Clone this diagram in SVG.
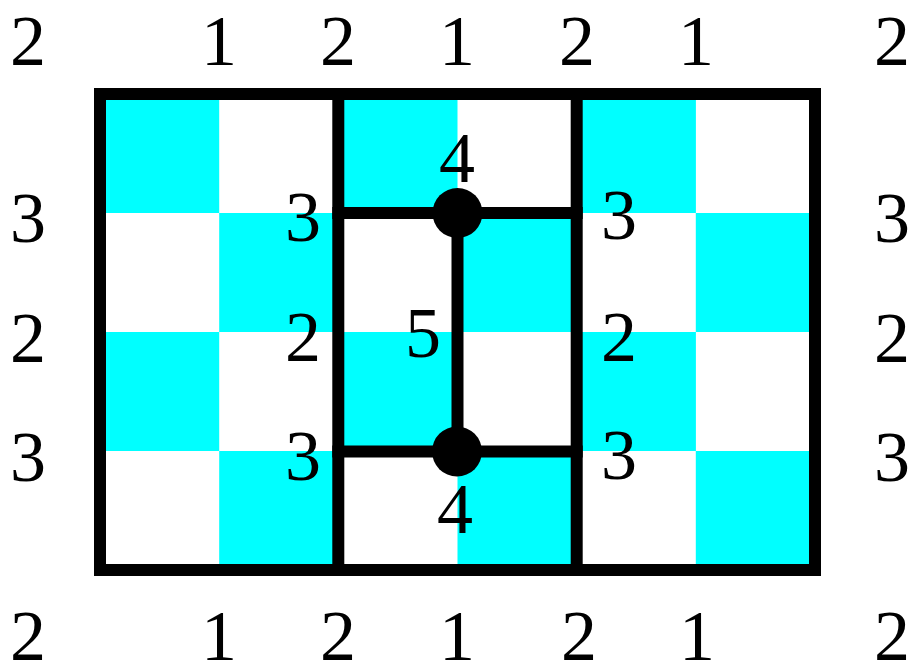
<svg xmlns="http://www.w3.org/2000/svg" width="915" height="665" viewBox="0 0 915 665">
<style>
.c{fill:#00FFFF;stroke:none}
.ln{stroke:#000;stroke-width:12;fill:none;stroke-linecap:square}
.t{font-family:"Liberation Serif","DejaVu Serif",serif;font-size:72px;fill:#000;text-anchor:middle}
.d{fill:#000}
</style>
<rect width="915" height="665" fill="#fff"/>
<g id="cells">
<rect class="c" x="100" y="94" width="119.2" height="119"/>
<rect class="c" x="338.3" y="94" width="119.2" height="119"/>
<rect class="c" x="576.7" y="94" width="119.2" height="119"/>
<rect class="c" x="219.2" y="213" width="119.2" height="119"/>
<rect class="c" x="457.5" y="213" width="119.2" height="119"/>
<rect class="c" x="695.8" y="213" width="119.2" height="119"/>
<rect class="c" x="100" y="332" width="119.2" height="119"/>
<rect class="c" x="338.3" y="332" width="119.2" height="119"/>
<rect class="c" x="576.7" y="332" width="119.2" height="119"/>
<rect class="c" x="219.2" y="451" width="119.2" height="119"/>
<rect class="c" x="457.5" y="451" width="119.2" height="119"/>
<rect class="c" x="695.8" y="451" width="119.2" height="119"/>
</g>
<g id="connectors">
<rect class="ln" x="100" y="94" width="715" height="476"/>
<line class="ln" x1="338.3" y1="94" x2="338.3" y2="570"/>
<line class="ln" x1="576.7" y1="94" x2="576.7" y2="570"/>
<line class="ln" x1="338.3" y1="213" x2="576.7" y2="213"/>
<line class="ln" x1="338.3" y1="451.5" x2="576.7" y2="451.5"/>
<line class="ln" x1="457.5" y1="213" x2="457.5" y2="451.5"/>
</g>
<g id="node-top"><circle class="d" cx="457.5" cy="213" r="25"/></g>
<g id="node-bottom"><circle class="d" cx="457" cy="451.5" r="25"/></g>
<g id="labels">
<text class="t" x="28" y="65">2</text>
<text class="t" x="219" y="65">1</text>
<text class="t" x="338" y="65">2</text>
<text class="t" x="457" y="65">1</text>
<text class="t" x="577" y="65">2</text>
<text class="t" x="696" y="65">1</text>
<text class="t" x="892" y="65">2</text>
<text class="t" x="28" y="660">2</text>
<text class="t" x="219" y="660">1</text>
<text class="t" x="338" y="660">2</text>
<text class="t" x="457" y="660">1</text>
<text class="t" x="579" y="660">2</text>
<text class="t" x="697" y="660">1</text>
<text class="t" x="892" y="660">2</text>
<text class="t" x="28" y="242">3</text>
<text class="t" x="28" y="362">2</text>
<text class="t" x="28" y="481">3</text>
<text class="t" x="892" y="242">3</text>
<text class="t" x="892" y="362">2</text>
<text class="t" x="892" y="481">3</text>
<text class="t" x="303" y="241">3</text>
<text class="t" x="303" y="361">2</text>
<text class="t" x="303" y="480">3</text>
<text class="t" x="619" y="239">3</text>
<text class="t" x="619" y="361">2</text>
<text class="t" x="619" y="479">3</text>
<text class="t" x="457" y="182">4</text>
<text class="t" x="455" y="533">4</text>
<text class="t" x="423" y="357">5</text>
</g>
</svg>
